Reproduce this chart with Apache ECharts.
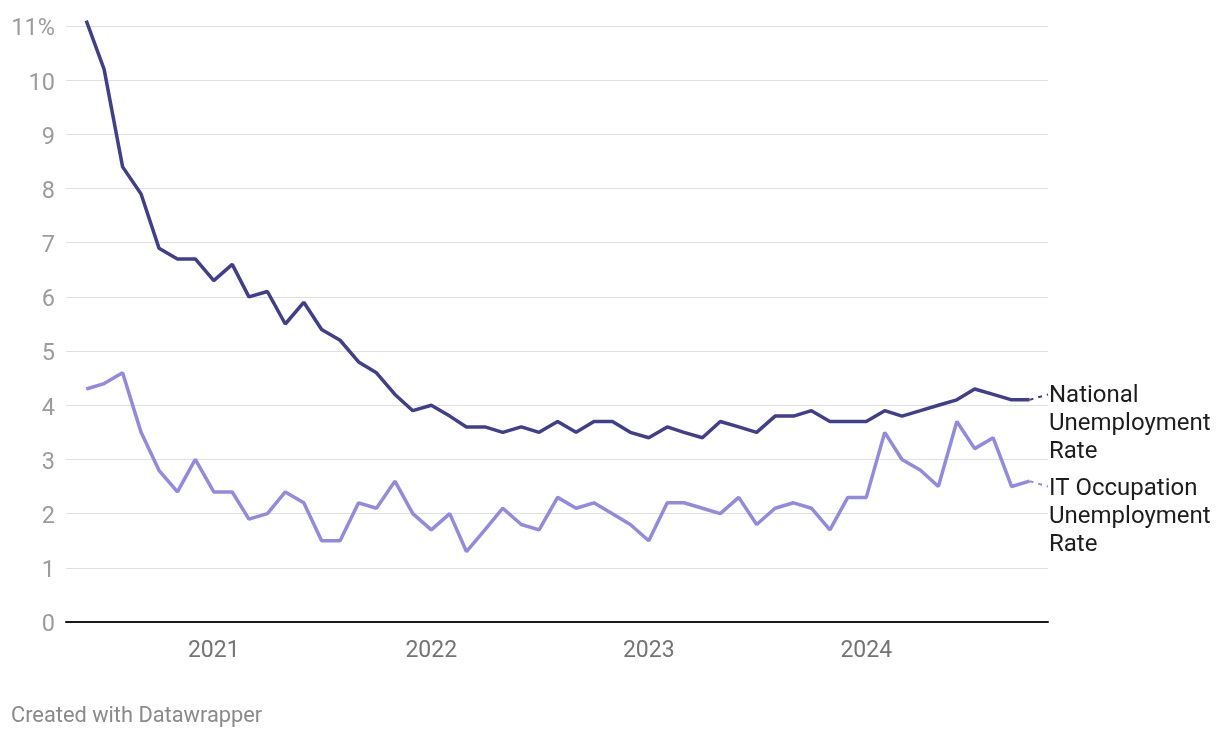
<!DOCTYPE html>
<html>
<head>
<meta charset="utf-8">
<script src="https://cdn.jsdelivr.net/npm/echarts@6/dist/echarts.min.js"></script>
<style>
  html, body { margin: 0; padding: 0; background: #fff; }
  #main { width: 1220px; height: 738px; }
</style>
</head>
<body>
<div id="main"></div>
<script>
// monthly points, Jun 2020 - Nov 2024
const months = [
  '2020-06-01', '2020-07-01', '2020-08-01', '2020-09-01', '2020-10-01', '2020-11-01', '2020-12-01',
  '2021-01-01', '2021-02-01', '2021-03-01', '2021-04-01', '2021-05-01', '2021-06-01',
  '2021-07-01', '2021-08-01', '2021-09-01', '2021-10-01', '2021-11-01', '2021-12-01',
  '2022-01-01', '2022-02-01', '2022-03-01', '2022-04-01', '2022-05-01', '2022-06-01',
  '2022-07-01', '2022-08-01', '2022-09-01', '2022-10-01', '2022-11-01', '2022-12-01',
  '2023-01-01', '2023-02-01', '2023-03-01', '2023-04-01', '2023-05-01', '2023-06-01',
  '2023-07-01', '2023-08-01', '2023-09-01', '2023-10-01', '2023-11-01', '2023-12-01',
  '2024-01-01', '2024-02-01', '2024-03-01', '2024-04-01', '2024-05-01', '2024-06-01',
  '2024-07-01', '2024-08-01', '2024-09-01', '2024-10-01', '2024-11-01'
]

const nationalRate = [
  11.1, 10.2, 8.4, 7.9, 6.9, 6.7, 6.7,
  6.3, 6.6, 6.0, 6.1, 5.5, 5.9, 5.4, 5.2, 4.8, 4.6, 4.2, 3.9,
  4.0, 3.8, 3.6, 3.6, 3.5, 3.6, 3.5, 3.7, 3.5, 3.7, 3.7, 3.5,
  3.4, 3.6, 3.5, 3.4, 3.7, 3.6, 3.5, 3.8, 3.8, 3.9, 3.7, 3.7,
  3.7, 3.9, 3.8, 3.9, 4.0, 4.1, 4.3, 4.2, 4.1, 4.1, 4.2
]

const itRate = [
  4.3, 4.4, 4.6, 3.5, 2.8, 2.4, 3.0,
  2.4, 2.4, 1.9, 2.0, 2.4, 2.2, 1.5, 1.5, 2.2, 2.1, 2.6, 2.0,
  1.7, 2.0, 1.3, 1.7, 2.1, 1.8, 1.7, 2.3, 2.1, 2.2, 2.0, 1.8,
  1.5, 2.2, 2.2, 2.1, 2.0, 2.3, 1.8, 2.1, 2.2, 2.1, 1.7, 2.3,
  2.3, 3.5, 3.0, 2.8, 2.5, 3.7, 3.2, 3.4, 2.5, 2.6, 2.5
]

const yearTicks = ['2021-01-01', '2022-01-01', '2023-01-01', '2024-01-01']
const nationalName = 'National\nUnemployment\nRate'
const itName = 'IT Occupation\nUnemployment\nRate'

function toTime (s) {
  let p = s.split('-')
  return new Date(+p[0], +p[1] - 1, +p[2]).getTime()
}

function pairs (vals) {
  return months.map((m, i) => [toTime(m), vals[i]])
}

// solid line up to the second last month, last step dashed
function makeSeries (vals, name, color, clip) {
  let all = pairs(vals)
  return [
    {
      type: 'line',
      data: all.slice(0, -1),
      showSymbol: false,
      clip: clip,
      lineStyle: { color: color, width: 3.5 },
      itemStyle: { color: color },
      silent: true
    },
    {
      type: 'line',
      data: all.slice(-2),
      showSymbol: false,
      lineStyle: { color: color, width: 2, type: [4, 5] },
      itemStyle: { color: color },
      silent: true,
      endLabel: {
        show: true,
        formatter: name,
        color: '#1d1d1d',
        fontFamily: 'Roboto',
        fontSize: 24,
        lineHeight: 28,
        align: 'left',
        distance: 1,
        offset: [0, 30]
      }
    }
  ]
}

const chart = echarts.init(document.getElementById('main'))
chart.setOption({
  animation: false,
  textStyle: { fontFamily: 'Roboto' },
  grid: { left: 66, right: 172, top: 26, bottom: 116 },
  xAxis: {
    type: 'value',
    min: toTime('2020-04-28'),
    max: toTime('2024-11-01'),
    axisLine: { show: true, lineStyle: { color: '#1a1a1a', width: 2 } },
    axisTick: { show: false },
    splitLine: { show: false },
    axisLabel: {
      customValues: yearTicks.map(toTime),
      formatter: v => String(new Date(v).getFullYear()),
      color: '#747474',
      fontSize: 23,
      margin: 18,
      fontFamily: 'Roboto'
    }
  },
  yAxis: {
    type: 'value',
    min: 0,
    max: 11,
    interval: 1,
    axisLine: { show: false },
    axisTick: { show: false },
    splitLine: { lineStyle: { color: '#e0e0e0', width: 1 } },
    axisLabel: {
      // rich style only to nudge the digits down onto the grid line
      formatter: v => '{t|' + (v === 11 ? v + '%' : v) + '}',
      rich: {
        t: {
          color: '#9c9c9c',
          fontSize: 23.5,
          fontFamily: 'Roboto',
          padding: [7, 0, 0, 0]
        }
      },
      margin: 11
    }
  },
  series: [
    ...makeSeries(itRate, itName, '#9189e3', true),
    ...makeSeries(nationalRate, nationalName, '#403e8f', false)
  ],
  graphic: [
    {
      type: 'text',
      left: 11,
      top: 706,
      style: {
        text: 'Created with Datawrapper',
        fill: '#8a8a8a',
        font: '21.8px Roboto'
      }
    }
  ]
})
</script>
</body>
</html>
